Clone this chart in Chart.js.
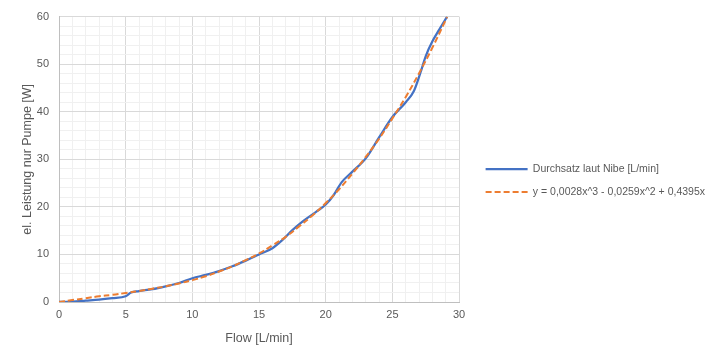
<!DOCTYPE html>
<html>
<head>
<meta charset="utf-8">
<script src="https://cdn.jsdelivr.net/npm/chart.js@4.4.1/dist/chart.umd.min.js"></script>
<style>
  html, body { margin: 0; padding: 0; background: #fff; }
  #chart { display: block; }
</style>
</head>
<body>
<canvas id="chart" width="715" height="361"></canvas>
<script>
/* =========================
   Data
========================= */

const nibeFlow = [0, 1, 2, 3, 4, 5, 5.4, 6, 7, 8, 9, 10, 11, 12, 13, 14, 15, 16, 16.7, 17.5, 18.3, 19.3, 20, 20.6, 21.2, 22, 23, 24, 25, 26, 26.6, 27.1, 27.5, 28, 28.5, 29.1];
const nibePower = [0, 0.1, 0.3, 0.5, 0.8, 1.2, 2.0, 2.3, 2.7, 3.3, 4.0, 5.0, 5.7, 6.5, 7.5, 8.7, 10.0, 11.3, 12.9, 15.1, 17.0, 19.0, 20.5, 22.5, 25.2, 27.4, 30.2, 34.6, 38.9, 42.0, 44.3, 48.2, 51.7, 54.8, 57.2, 60.0];

const trendFlow = [0, 1, 2, 3, 4, 5, 6, 7, 8, 9, 10, 11, 12, 13, 14, 15, 16, 17, 18, 19, 20, 21, 22, 23, 24, 25, 26, 27, 28, 29, 29.1];
const trendPower = [0, 0.4, 0.8, 1.2, 1.5, 1.9, 2.3, 2.8, 3.3, 3.9, 4.6, 5.4, 6.4, 7.5, 8.8, 10.2, 11.9, 13.7, 15.9, 18.2, 20.8, 23.7, 27.0, 30.5, 34.3, 38.6, 43.1, 48.1, 53.5, 59.3, 59.9];

const seriesLabels = ["Durchsatz laut Nibe [L/min]", "y = 0,0028x^3 - 0,0259x^2 + 0,4395x"];
const xTitle = "Flow [L/min]";
const yTitle = "el. Leistung nur Pumpe [W]";

// major tick every 5 (x) / 10 (y), light minor grid every 1 (x) / 2 (y)
const xRange = [0, 30];
const yRange = [0, 60];

const toPoints = (xs, ys) => xs.map((x, i) => ({ x: x, y: ys[i] }));

/* =========================
   Chart
========================= */

const textColor = "#595959";
const fontFamily = "'Liberation Sans', Arial, sans-serif";

function withMinorTicks(minorStep, majorStep) {
  return {
    afterBuildTicks: scale => {
      const ticks = [];
      for (let v = scale.min; v <= scale.max + 1e-9; v += minorStep) {
        ticks.push({ value: Math.round(v * 1000) / 1000 });
      }
      scale.ticks = ticks;
    },
    callback: value => (value % majorStep === 0 ? String(value) : ""),
    gridColor: ctx => (ctx.tick && ctx.tick.value % majorStep === 0 ? "#d9d9d9" : "#f0f0f0")
  };
}

const xMinor = withMinorTicks(1, 5);
const yMinor = withMinorTicks(2, 10);

// legend samples as line segments, dashed like the series
function lineLegendLabels(chart) {
  const items = Chart.defaults.plugins.legend.labels.generateLabels(chart);
  return items.map(item => {
    const ds = chart.data.datasets[item.datasetIndex];
    item.strokeStyle = ds.borderColor;
    item.fillStyle = ds.borderColor;
    item.lineWidth = ds.borderWidth;
    item.lineDash = ds.borderDash || [];
    item.pointStyle = "line";
    return item;
  });
}

new Chart(document.getElementById("chart"), {
  type: "line",
  data: {
    datasets: [
      {
        label: seriesLabels[0],
        data: toPoints(nibeFlow, nibePower),
        borderColor: "#4472C4",
        backgroundColor: "#4472C4",
        borderWidth: 2.25,
        pointRadius: 0,
        cubicInterpolationMode: "monotone",
        order: 2
      },
      {
        label: seriesLabels[1],
        data: toPoints(trendFlow, trendPower),
        borderColor: "#ED7D31",
        backgroundColor: "#ED7D31",
        borderWidth: 2,
        borderDash: [6, 3],
        pointRadius: 0,
        tension: 0.4,
        order: 1
      }
    ]
  },
  options: {
    responsive: false,
    animation: false,
    layout: { padding: { top: 14, right: 0, bottom: 0, left: 0 } },
    scales: {
      x: {
        type: "linear",
        position: "bottom",
        min: xRange[0],
        max: xRange[1],
        afterBuildTicks: xMinor.afterBuildTicks,
        ticks: { autoSkip: false, maxRotation: 0, callback: xMinor.callback, color: textColor, font: { family: fontFamily, size: 11 }, padding: 6 },
        grid: { color: xMinor.gridColor, drawTicks: false },
        border: { color: "#bfbfbf" },
        title: { display: true, text: xTitle, color: textColor, font: { family: fontFamily, size: 12.5 }, padding: { bottom: 15 } },
        afterFit: scale => { scale.height = 59; }
      },
      y: {
        type: "linear",
        position: "left",
        min: yRange[0],
        max: yRange[1],
        afterBuildTicks: yMinor.afterBuildTicks,
        ticks: { autoSkip: false, callback: yMinor.callback, color: textColor, font: { family: fontFamily, size: 11 }, padding: 10 },
        grid: { color: yMinor.gridColor, drawTicks: false },
        border: { color: "#bfbfbf" },
        title: { display: true, text: yTitle, color: textColor, font: { family: fontFamily, size: 12.5 }, padding: { top: 20 } },
        afterFit: scale => { scale.width = 59; }
      },
      // empty spacer between plot and legend
      gap: {
        type: "linear",
        position: "right",
        display: true,
        ticks: { display: false },
        grid: { display: false, drawTicks: false },
        border: { display: false },
        afterFit: scale => { scale.width = 14; }
      }
    },
    plugins: {
      tooltip: { enabled: false },
      legend: {
        position: "right",
        align: "center",
        maxWidth: 300,
        // empty title with negative padding lifts the items a little
        title: { display: true, text: " ", font: { size: 10 }, padding: { top: -13, bottom: -13 } },
        labels: {
          usePointStyle: true,
          pointStyle: "line",
          pointStyleWidth: 42,
          boxHeight: 10.5,
          padding: 12.5,
          color: textColor,
          font: { family: fontFamily, size: 10.5 },
          generateLabels: lineLegendLabels,
          sort: (a, b) => a.datasetIndex - b.datasetIndex
        }
      }
    }
  }
});
</script>
</body>
</html>
